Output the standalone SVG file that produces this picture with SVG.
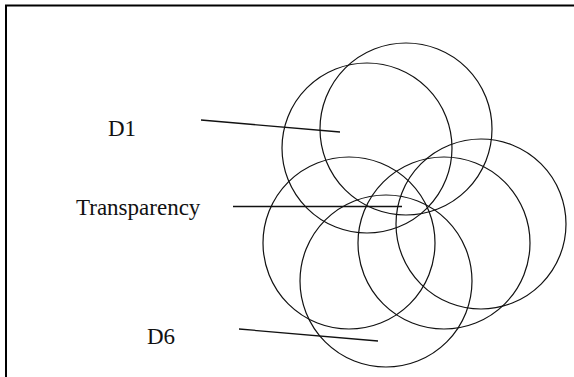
<svg xmlns="http://www.w3.org/2000/svg" width="574" height="377" viewBox="0 0 574 377">
<style>
.c{fill:none;stroke:#111;stroke-width:1.2}
.l{stroke:#111;stroke-width:1.3;fill:none}
.t{font-size:23px;fill:#111}
</style>
<rect width="574" height="377" fill="#fff"/>
<path d="M6 377 V5.5 H574" fill="none" stroke="#000" stroke-width="2"/>
<g id="circles">
<circle id="cA" class="c" cx="406" cy="129" r="86"/>
<circle id="cB" class="c" cx="367" cy="148" r="85"/>
<circle id="cC" class="c" cx="349" cy="243" r="86"/>
<circle id="cD" class="c" cx="386" cy="281" r="86"/>
<circle id="cE" class="c" cx="444" cy="243" r="86"/>
<circle id="cF" class="c" cx="481" cy="224" r="85"/>
</g>
<g id="connectors">
<line class="l" x1="201" y1="120" x2="340" y2="132"/>
<line class="l" x1="233" y1="206.5" x2="402" y2="206.5"/>
<line class="l" x1="239" y1="329" x2="378" y2="341"/>
</g>
<g id="label-d1"><text class="t" font-family="Liberation Serif, Tinos, DejaVu Serif, serif" x="108" y="136">D1</text></g>
<g id="label-transparency"><text class="t" font-family="Liberation Serif, Tinos, DejaVu Serif, serif" x="76" y="215">Transparency</text></g>
<g id="label-d6"><text class="t" font-family="Liberation Serif, Tinos, DejaVu Serif, serif" x="147" y="344">D6</text></g>
</svg>
